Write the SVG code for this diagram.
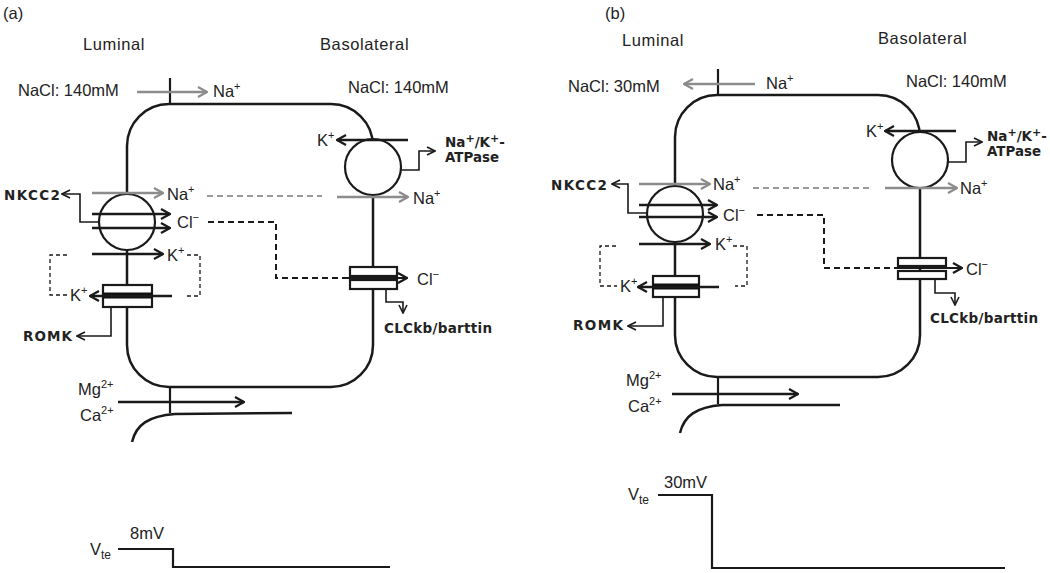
<svg xmlns="http://www.w3.org/2000/svg" width="1050" height="573" viewBox="0 0 1050 573">
<style>
.t{font-family:"Liberation Sans",Arial,sans-serif;font-size:16.5px;fill:#222}
.lbl{letter-spacing:0.6px}
.b{font-family:"DejaVu Sans","Liberation Sans",sans-serif;font-weight:bold;font-size:13.5px}
.s{font-size:11px}
.cell{fill:none;stroke:#1a1a1a;stroke-width:2.5}
.memb{fill:#fff;stroke:#1a1a1a;stroke-width:2.2}
.ion{fill:none;stroke:#1a1a1a;stroke-width:2.5}
.ion2{fill:none;stroke:#1a1a1a;stroke-width:2}
.gion{fill:none;stroke:#8c8c8c;stroke-width:2.5}
.conn{fill:none;stroke:#1a1a1a;stroke-width:1.6}
.tick{fill:none;stroke:#1a1a1a;stroke-width:2.2}
.dash{fill:none;stroke:#1a1a1a;stroke-width:2;stroke-dasharray:6 4}
.gdash{fill:none;stroke:#9a9a9a;stroke-width:2;stroke-dasharray:6 4}
.tdash{fill:none;stroke:#1a1a1a;stroke-width:1.3;stroke-dasharray:4 3}
.v{fill:none;stroke:#1a1a1a;stroke-width:2.2}
</style>
<defs>
<marker id="ab" viewBox="0 0 12 12" refX="11" refY="6" markerWidth="12" markerHeight="12" markerUnits="userSpaceOnUse" orient="auto"><path d="M2,1 L11,6 L2,11" fill="none" stroke="#1a1a1a" stroke-width="2.2"/></marker>
<marker id="ag" viewBox="0 0 12 12" refX="11" refY="6" markerWidth="12" markerHeight="12" markerUnits="userSpaceOnUse" orient="auto"><path d="M2,1 L11,6 L2,11" fill="none" stroke="#8c8c8c" stroke-width="2.2"/></marker>
<marker id="at" viewBox="0 0 10 10" refX="9" refY="5" markerWidth="10" markerHeight="10" markerUnits="userSpaceOnUse" orient="auto"><path d="M1,1 L9,5 L1,9" fill="none" stroke="#1a1a1a" stroke-width="1.6"/></marker>
</defs>

<!-- ================= PANEL A ================= -->
<g id="labels-a">
<text class="t" x="3" y="19">(a)</text>
<text class="t lbl" x="83" y="50">Luminal</text>
<text class="t lbl" x="320" y="50">Basolateral</text>
<text class="t" x="18" y="96">NaCl: 140mM</text>
<text class="t" x="348" y="93">NaCl: 140mM</text>
</g>
<g id="cell-a">
<rect class="cell" x="127" y="104" width="246" height="283" rx="42"/>
</g>
<g id="nkcc2-a">
<circle class="memb" cx="127" cy="222" r="28"/>
<text class="t b" x="60" y="200" text-anchor="end" textLength="56" lengthAdjust="spacing">NKCC2</text>
</g>
<g id="atpase-a">
<circle class="memb" cx="373" cy="167" r="28"/>
<text class="t b" x="445" y="147">Na<tspan class="s" dy="-5">+</tspan><tspan dy="5">/K</tspan><tspan class="s" dy="-5">+</tspan><tspan dy="5">-</tspan></text>
<text class="t b" x="445" y="162" textLength="54" lengthAdjust="spacingAndGlyphs">ATPase</text>
</g>
<g id="romk-a">
<rect class="memb" x="103" y="285" width="49" height="22"/>
<rect x="103" y="292.5" width="49" height="6" fill="#111"/>
<text class="t b" x="72" y="341" text-anchor="end" textLength="49" lengthAdjust="spacing">ROMK</text>
</g>
<g id="clc-a">
<rect class="memb" x="350" y="267" width="47" height="9"/>
<rect class="memb" x="350" y="280" width="47" height="9"/>
<text class="t b" x="384" y="333" textLength="108" lengthAdjust="spacing">CLCkb/barttin</text>
</g>
<g id="ions-a">
<text class="t" x="213" y="97">Na<tspan class="s" dy="-7">+</tspan></text>
<text class="t" x="167" y="200">Na<tspan class="s" dy="-7">+</tspan></text>
<text class="t" x="177" y="228">Cl<tspan class="s" dy="-7">−</tspan></text>
<text class="t" x="167" y="261">K<tspan class="s" dy="-7">+</tspan></text>
<text class="t" x="70" y="301">K<tspan class="s" dy="-7">+</tspan></text>
<text class="t" x="317" y="146">K<tspan class="s" dy="-7">+</tspan></text>
<text class="t" x="413" y="204">Na<tspan class="s" dy="-7">+</tspan></text>
<text class="t" x="417" y="285">Cl<tspan class="s" dy="-7">−</tspan></text>
<text class="t" x="78" y="395">Mg<tspan class="s" dy="-7">2+</tspan></text>
<text class="t" x="80" y="421">Ca<tspan class="s" dy="-7">2+</tspan></text>
</g>
<g id="vte-a">
<text class="t" x="90" y="555">V<tspan font-size="12" dy="4">te</tspan></text>
<text class="t" x="130" y="539">8mV</text>
<path class="v" d="M118,549 H173 V567 H390"/>
</g>

<!-- ================= PANEL B ================= -->
<g id="labels-b">
<text class="t" x="605" y="19">(b)</text>
<text class="t lbl" x="622" y="46">Luminal</text>
<text class="t lbl" x="878" y="44">Basolateral</text>
<text class="t" x="568" y="92">NaCl: 30mM</text>
<text class="t" x="906" y="87">NaCl: 140mM</text>
</g>
<g id="cell-b">
<rect class="cell" x="675" y="95" width="245" height="282" rx="42"/>
</g>
<g id="nkcc2-b">
<circle class="memb" cx="675" cy="214" r="28"/>
<text class="t b" x="607" y="190" text-anchor="end" textLength="56" lengthAdjust="spacing">NKCC2</text>
</g>
<g id="atpase-b">
<circle class="memb" cx="920" cy="160" r="28"/>
<text class="t b" x="987" y="141">Na<tspan class="s" dy="-5">+</tspan><tspan dy="5">/K</tspan><tspan class="s" dy="-5">+</tspan><tspan dy="5">-</tspan></text>
<text class="t b" x="987" y="156" textLength="54" lengthAdjust="spacingAndGlyphs">ATPase</text>
</g>
<g id="romk-b">
<rect class="memb" x="653" y="276" width="46" height="21"/>
<rect x="653" y="283.5" width="46" height="6" fill="#111"/>
<text class="t b" x="623" y="330" text-anchor="end" textLength="50" lengthAdjust="spacing">ROMK</text>
</g>
<g id="clc-b">
<rect class="memb" x="898" y="258" width="48" height="8"/>
<rect class="memb" x="898" y="271" width="48" height="8"/>
<text class="t b" x="930" y="323" textLength="108" lengthAdjust="spacing">CLCkb/barttin</text>
</g>
<g id="ions-b">
<text class="t" x="766" y="89">Na<tspan class="s" dy="-7">+</tspan></text>
<text class="t" x="713" y="190">Na<tspan class="s" dy="-7">+</tspan></text>
<text class="t" x="723" y="221">Cl<tspan class="s" dy="-7">−</tspan></text>
<text class="t" x="715" y="250">K<tspan class="s" dy="-7">+</tspan></text>
<text class="t" x="620" y="292">K<tspan class="s" dy="-7">+</tspan></text>
<text class="t" x="866" y="137">K<tspan class="s" dy="-7">+</tspan></text>
<text class="t" x="960" y="194">Na<tspan class="s" dy="-7">+</tspan></text>
<text class="t" x="966" y="275">Cl<tspan class="s" dy="-7">−</tspan></text>
<text class="t" x="626" y="386">Mg<tspan class="s" dy="-7">2+</tspan></text>
<text class="t" x="628" y="412">Ca<tspan class="s" dy="-7">2+</tspan></text>
</g>
<g id="vte-b">
<text class="t" x="628" y="500">V<tspan font-size="12" dy="4">te</tspan></text>
<text class="t" x="664" y="488">30mV</text>
<path class="v" d="M658,495 H712 V568 H1005"/>
</g>

<!-- ================= CONNECTORS ================= -->
<g id="connectors">
<!-- panel a -->
<path class="tick" d="M170,78 V104"/>
<path class="gion" d="M137,92 H207" marker-end="url(#ag)"/>
<path class="gion" d="M92,193 H163" marker-end="url(#ag)"/>
<path class="ion" d="M92,214 H170" marker-end="url(#ab)"/>
<path class="ion" d="M92,228 H170" marker-end="url(#ab)"/>
<path class="ion" d="M92,254 H163" marker-end="url(#ab)"/>
<path class="conn" d="M99,222 H80 V194 H62" marker-end="url(#at)"/>
<path class="gdash" d="M207,196 H322"/>
<path class="dash" d="M208,222 H276 V278 H348"/>
<path class="ion2" d="M348,278 H407" marker-end="url(#ab)"/>
<path class="conn" d="M386,289 V302 H403 V313" marker-end="url(#at)"/>
<path class="ion" d="M408,140 H337" marker-end="url(#ab)"/>
<path class="gion" d="M337,197 H408" marker-end="url(#ag)"/>
<path class="conn" d="M401,170 H419 V151 H435" marker-end="url(#at)"/>
<path class="ion" d="M172,296 H90" marker-end="url(#ab)"/>
<path class="conn" d="M111,307 V336 H77" marker-end="url(#at)"/>
<path class="tdash" d="M187,255 H200 V296 H186"/>
<path class="tdash" d="M67,255 H50 V295 H68"/>
<path class="tick" d="M170,387 V413"/>
<path class="ion" d="M118,402 H244" marker-end="url(#ab)"/>
<path class="cell" d="M132,442 C136,425 148,416 175,414 L292,413"/>
<!-- panel b -->
<path class="tick" d="M718,69 V95"/>
<path class="gion" d="M755,84 H684" marker-end="url(#ag)"/>
<path class="gion" d="M639,184 H710" marker-end="url(#ag)"/>
<path class="ion" d="M639,205 H717" marker-end="url(#ab)"/>
<path class="ion" d="M639,217 H717" marker-end="url(#ab)"/>
<path class="ion" d="M639,244 H710" marker-end="url(#ab)"/>
<path class="conn" d="M647,213 H628 V184 H612" marker-end="url(#at)"/>
<path class="gdash" d="M753,188 H870"/>
<path class="dash" d="M757,215 H824 V268 H896"/>
<path class="ion2" d="M896,268 H962" marker-end="url(#ab)"/>
<path class="conn" d="M935,279 V293 H955 V305" marker-end="url(#at)"/>
<path class="ion" d="M956,131 H885" marker-end="url(#ab)"/>
<path class="gion" d="M885,188 H957" marker-end="url(#ag)"/>
<path class="conn" d="M948,162 H966 V142 H982" marker-end="url(#at)"/>
<path class="ion" d="M719,287 H638" marker-end="url(#ab)"/>
<path class="conn" d="M663,297 V326 H628" marker-end="url(#at)"/>
<path class="tdash" d="M733,246 H747 V286 H735"/>
<path class="tdash" d="M616,246 H600 V286 H617"/>
<path class="tick" d="M718,377 V404"/>
<path class="ion" d="M672,394 H798" marker-end="url(#ab)"/>
<path class="cell" d="M680,433 C684,416 696,407 722,405 L840,405"/>
</g>
</svg>
